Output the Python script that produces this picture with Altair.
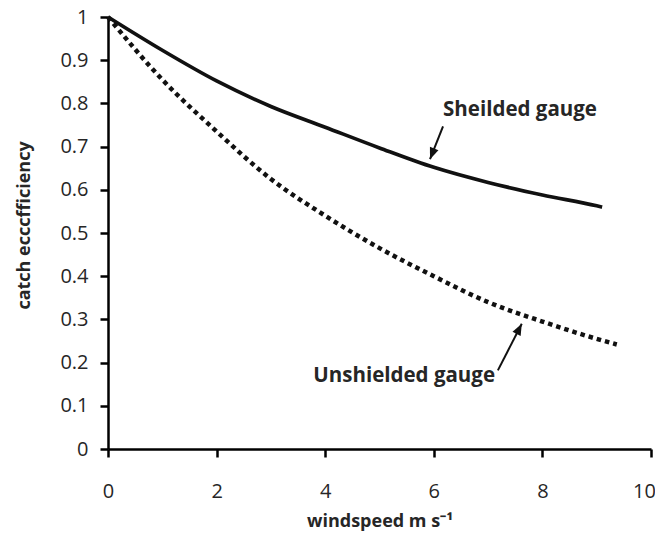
import altair as alt
import pandas as pd

# --- data ---
wind_shielded = [0, 1, 2, 3, 4, 5, 6, 7, 8, 9, 9.1]
catch_shielded = [1.0, 0.923, 0.852, 0.793, 0.745, 0.697, 0.652, 0.617, 0.588, 0.563, 0.56]
wind_unshielded = [0, 1, 2, 3, 4, 5, 6, 7, 8, 9, 9.37]
catch_unshielded = [1.0, 0.855, 0.735, 0.625, 0.54, 0.465, 0.40, 0.34, 0.295, 0.255, 0.242]

x_ticks = [0, 2, 4, 6, 8, 10]
y_ticks = [0, 0.1, 0.2, 0.3, 0.4, 0.5, 0.6, 0.7, 0.8, 0.9, 1]

labels = ["Sheilded gauge", "Unshielded gauge"]
label_x = [6.17, 3.78]
label_y = [0.785, 0.168]
arrow_x1 = [6.17, 7.18]
arrow_y1 = [0.747, 0.182]
arrow_x2 = [5.93, 7.62]
arrow_y2 = [0.671, 0.29]
arrow_angle = [201.5, 27]

FONT = "Open Sans"
TXT = "#262626"

shield_df = pd.DataFrame({"w": wind_shielded, "c": catch_shielded})
unshield_df = pd.DataFrame({"w": wind_unshielded, "c": catch_unshielded})
ann_df = pd.DataFrame({"label": labels, "x": label_x, "y": label_y})
arrow_df = pd.DataFrame({"x1": arrow_x1, "y1": arrow_y1, "x2": arrow_x2,
                         "y2": arrow_y2, "angle": arrow_angle})

xscale = alt.Scale(domain=[0, 10], nice=False)
yscale = alt.Scale(domain=[0, 1], nice=False)

xaxis = alt.Axis(values=x_ticks, title="windspeed m s⁻¹", grid=False,
                 domainColor="black", domainWidth=2.5, tickColor="black",
                 tickWidth=2.5, tickSize=8, labelFont=FONT, labelFontSize=20,
                 labelColor=TXT, labelPadding=24, labelFlush=False,
                 labelOffset={"condition": {"test": "datum.value == 10", "value": -7},
                              "value": 0},
                 titleFont=FONT, titleFontSize=18, titleFontWeight="bold",
                 titleColor=TXT, titleY=72, titleBaseline="middle")
yaxis = alt.Axis(values=y_ticks, format="~g", title="catch ecccfficiency",
                 grid=False, domainColor="black", domainWidth=2.5,
                 tickColor="black", tickWidth=2.5, tickSize=8,
                 labelFont=FONT, labelFontSize=20, labelColor=TXT,
                 labelPadding=12, labelFlush=False,
                 titleFont=FONT, titleFontSize=18, titleFontWeight="bold",
                 titleColor=TXT, titleX=-84, titleY=208, titleAngle=-90,
                 titleBaseline="middle")

solid = alt.Chart(shield_df).mark_line(
    color="#111111", strokeWidth=3.7, interpolate="monotone"
).encode(
    x=alt.X("w:Q", scale=xscale, axis=xaxis),
    y=alt.Y("c:Q", scale=yscale, axis=yaxis),
)

dotted = alt.Chart(unshield_df).mark_line(
    color="#111111", strokeWidth=4.5, strokeDash=[4.5, 4],
    strokeCap="butt", interpolate="monotone"
).encode(x=alt.X("w:Q", scale=xscale), y=alt.Y("c:Q", scale=yscale))

texts = alt.Chart(ann_df).mark_text(
    align="left", baseline="middle", font=FONT, fontSize=20.5,
    fontWeight="bold", color=TXT
).encode(x=alt.X("x:Q", scale=xscale), y=alt.Y("y:Q", scale=yscale),
         text="label:N")

rules = alt.Chart(arrow_df).mark_rule(color="#111111", strokeWidth=2).encode(
    x=alt.X("x1:Q", scale=xscale), y=alt.Y("y1:Q", scale=yscale),
    x2="x2:Q", y2="y2:Q")

heads = alt.Chart(arrow_df).mark_point(
    shape="M0,0L0.8,2L-0.8,2Z", size=130, filled=True, opacity=1,
    color="#111111"
).encode(x=alt.X("x2:Q", scale=xscale), y=alt.Y("y2:Q", scale=yscale),
         angle=alt.Angle("angle:Q", scale=None))

chart = alt.layer(solid, dotted, rules, heads, texts).properties(
    width=543, height=432,
    autosize=alt.AutoSizeParams(type="none"),
    padding={"left": 100, "top": 9, "right": 4, "bottom": 84},
    background="white",
).configure_view(stroke=None)

chart.save("out.html", embed_options={"renderer": "svg", "actions": False})
